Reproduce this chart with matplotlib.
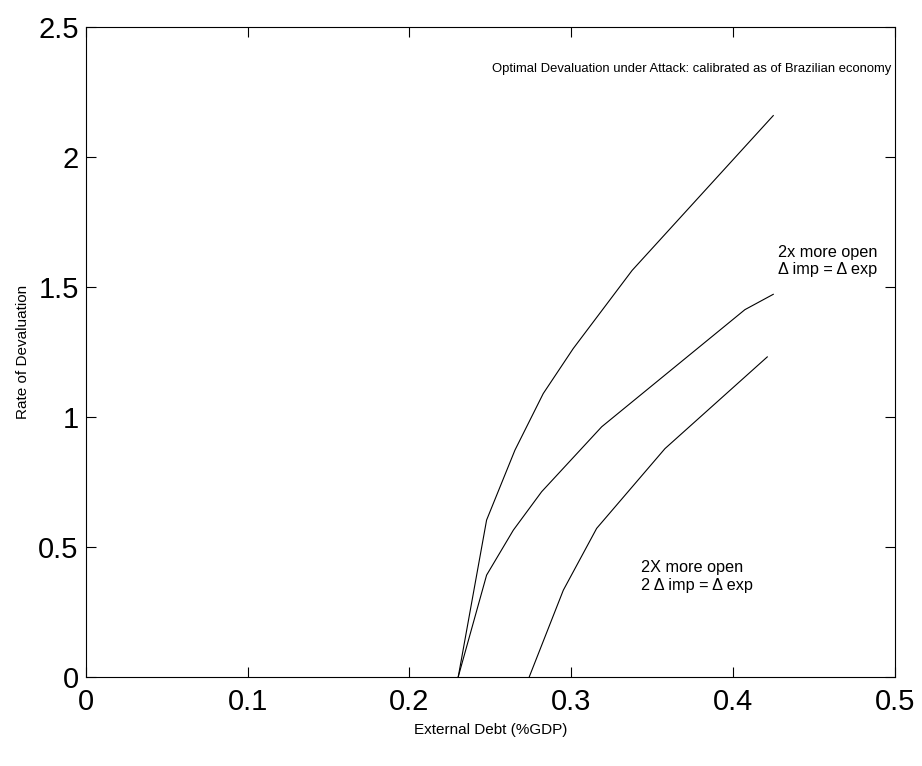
import matplotlib
matplotlib.use('Agg')
import matplotlib.pyplot as plt

plt.rcParams['font.family'] = ['Liberation Sans', 'DejaVu Sans']

# baseline calibration
debt_base = [0.2302, 0.2477, 0.2652, 0.2827, 0.3012, 0.3376, 0.4248]
dev_base = [0.0, 0.603, 0.872, 1.09, 1.263, 1.564, 2.160]

# 2x more open, d imp = d exp
debt_open = [0.2302, 0.2477, 0.2642, 0.2817, 0.3188, 0.4073, 0.4248]
dev_open = [0.0, 0.391, 0.564, 0.712, 0.962, 1.413, 1.472]

# 2X more open, 2 d imp = d exp
debt_open2 = [0.2741, 0.2951, 0.3157, 0.3579, 0.4211]
dev_open2 = [0.0, 0.333, 0.571, 0.878, 1.231]

xticks = [0, 0.1, 0.2, 0.3, 0.4, 0.5]
yticks = [0, 0.5, 1, 1.5, 2, 2.5]


def main():
    fig = plt.figure(figsize=(9.22, 7.66), dpi=100)
    ax = fig.add_axes([0.0929, 0.1166, 0.8778, 0.8478])

    ax.plot(debt_base, dev_base, color='black', lw=0.8)
    ax.plot(debt_open, dev_open, color='black', lw=0.8)
    ax.plot(debt_open2, dev_open2, color='black', lw=0.8)

    ax.set_xlim(0, 0.5)
    ax.set_ylim(0, 2.5)
    ax.set_xticks(xticks)
    ax.set_xticklabels(['0', '0.1', '0.2', '0.3', '0.4', '0.5'])
    ax.set_yticks(yticks)
    ax.set_yticklabels(['0', '0.5', '1', '1.5', '2', '2.5'])
    ax.tick_params(direction='in', length=7, width=0.8, labelsize=21,
                   top=True, right=True)
    ax.tick_params(axis='x', pad=8)
    ax.tick_params(axis='y', pad=5)
    for s in ax.spines.values():
        s.set_linewidth(0.8)

    ax.set_xlabel('External Debt (%GDP)', fontsize=11, labelpad=5)
    ax.set_ylabel('Rate of Devaluation', fontsize=11, labelpad=6)

    ax.text(0.498, 2.34, 'Optimal Devaluation under Attack: calibrated as of Brazilian economy',
            fontsize=9.4, ha='right', va='center')
    ax.text(0.4889, 1.60, '2x more open\n\u0394 imp = \u0394 exp',
            fontsize=11.7, ha='right', va='center', multialignment='center',
            linespacing=1.15)
    ax.text(0.3428, 0.385, '2X more open\n2 \u0394 imp = \u0394 exp',
            fontsize=11.7, ha='left', va='center', linespacing=1.3)

    fig.savefig('out.png', dpi=100)


if __name__ == '__main__':
    main()
